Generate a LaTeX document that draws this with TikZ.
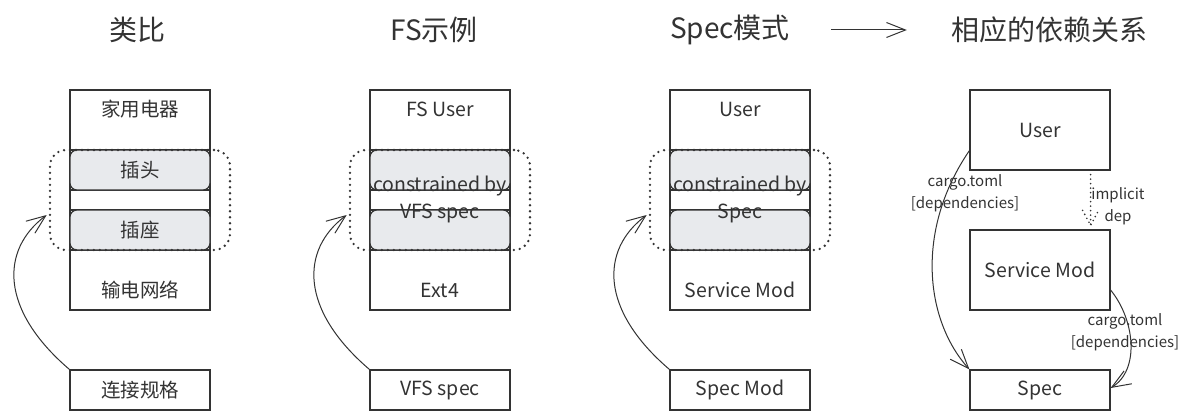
\documentclass[tikz,border=0pt]{standalone}
\usepackage{fontspec}
\setmainfont{Noto Sans CJK SC}
\usetikzlibrary{arrows.meta,calc}
\definecolor{ink}{HTML}{333333}
\definecolor{plugfill}{HTML}{E8EAED}
\begin{document}
\begin{tikzpicture}[x=1pt,y=-1pt,
  every node/.style={text=ink},
  lbl/.style={font=\fontsize{19.5}{22}\selectfont, inner sep=0pt},
  ttl/.style={font=\fontsize{28}{30}\selectfont, inner sep=0pt},
  small/.style={font=\fontsize{15}{22}\selectfont, align=center, inner sep=0pt},
  frame/.style={draw=ink, line width=1.2pt, minimum width=140pt, inner sep=0pt},
  plug/.style={draw=ink, line width=1.2pt, fill=plugfill, rounded corners=7pt,
    minimum width=140pt, minimum height=40pt, inner sep=0pt, font=\fontsize{19.5}{22}\selectfont},
  grp/.style={draw=ink, line width=2.6pt, dash pattern=on 0pt off 6pt, line cap=round,
    rounded corners=16pt, minimum width=180pt, minimum height=100pt, inner sep=0pt},
  arr/.style={draw=ink, line width=1pt, -{Straight Barb[length=19pt,width=15pt,line width=1pt]}},
  dline/.style={draw=ink, line width=1.8pt, dash pattern=on 0pt off 4.5pt, line cap=round},
]
\useasboundingbox (0,0) rectangle (1189,420);

% titles
\node[ttl] (t1) at (137,30) {类比};
\node[ttl] (t2) at (434,30) {FS示例};
\node[ttl] (t3) at (730,30) {Spec模式};
\node[ttl] (t4) at (1049,30) {相应的依赖关系};
\draw[arr, shorten <=41pt, shorten >=44pt] (t3) -- (t4);

% ---------- column 1 ----------
\node[frame, minimum height=220pt] (o1) at (140,200) {};
\node[frame, minimum height=40pt] (r1a) at (140,170) {};
\node[frame, minimum height=40pt] (r1b) at (140,230) {};
\node[plug] (p1a) at (140,170) {插头};
\node[plug] (p1b) at (140,230) {插座};
\node[lbl] (o1t) at (140,109) {家用电器};
\node[lbl] (o1b) at (140,290) {输电网络};
\node[grp] (g1) at (140,200) {};
\node[frame, minimum height=40pt, lbl] (s1) at (140,390) {连接规格};
\draw[arr] (s1.north west) .. controls (0,310) and (0,250) .. ($(g1.west)+(-2,15)$);

% ---------- column 2 ----------
\node[frame, minimum height=220pt] (o2) at (440,200) {};
\node[frame, minimum height=40pt] (r2a) at (440,170) {};
\node[frame, minimum height=40pt] (r2b) at (440,230) {};
\node[plug] (p2a) at (440,170) {};
\node[plug] (p2b) at (440,230) {};
\node[lbl] (o2t) at (440,109) {FS User};
\node[lbl] (o2b) at (440,290) {Ext4};
\node[grp] (g2) at (440,200) {};
\node[lbl, align=center, font=\fontsize{19.5}{27}\selectfont] (c2) at (440,199) {constrained by\\VFS spec};
\node[frame, minimum height=40pt, lbl] (s2) at (440,390) {VFS spec};
\draw[arr] (s2.north west) .. controls (300,310) and (300,250) .. ($(g2.west)+(-2,15)$);

% ---------- column 3 ----------
\node[frame, minimum height=220pt] (o3) at (740,200) {};
\node[frame, minimum height=40pt] (r3a) at (740,170) {};
\node[frame, minimum height=40pt] (r3b) at (740,230) {};
\node[plug] (p3a) at (740,170) {};
\node[plug] (p3b) at (740,230) {};
\node[lbl] (o3t) at (740,109) {User};
\node[lbl] (o3b) at (740,290) {Service Mod};
\node[grp] (g3) at (740,200) {};
\node[lbl, align=center, font=\fontsize{19.5}{27}\selectfont] (c3) at (740,199) {constrained by\\Spec};
\node[frame, minimum height=40pt, lbl] (s3) at (740,390) {Spec Mod};
\draw[arr] (s3.north west) .. controls (600,310) and (600,250) .. ($(g3.west)+(-2,15)$);

% ---------- column 4 ----------
\node[frame, minimum height=80pt, lbl] (u4) at (1040,130) {User};
\node[frame, minimum height=80pt, lbl] (m4) at (1040,270) {Service Mod};
\node[frame, minimum height=40pt, lbl] (sp4) at (1040,390) {Spec};
\draw[arr] ($(u4.south west)+(0,-20)$) .. controls (915,230) and (925,320) .. (sp4.north west);
\draw[arr] ($(m4.east)+(0,20)$) .. controls (1135,320) and (1140,370) .. ($(sp4.east)+(0,-2)$);
\coordinate (tip) at ($(m4.north east)+(-20,-4)$);
\draw[dline] ($(u4.south east)+(-20,4)$) -- (tip);
\draw[dline] ($(tip)+(-8,-15)$) -- (tip) -- ($(tip)+(8,-15)$);
\node[small] (l1) at (965,193) {cargo.toml\\{}[dependencies]};
\node[small] (l2) at (1125,332) {cargo.toml\\{}[dependencies]};
\node[small] (l3) at (1118,206) {implicit\\dep};
\end{tikzpicture}
\end{document}
